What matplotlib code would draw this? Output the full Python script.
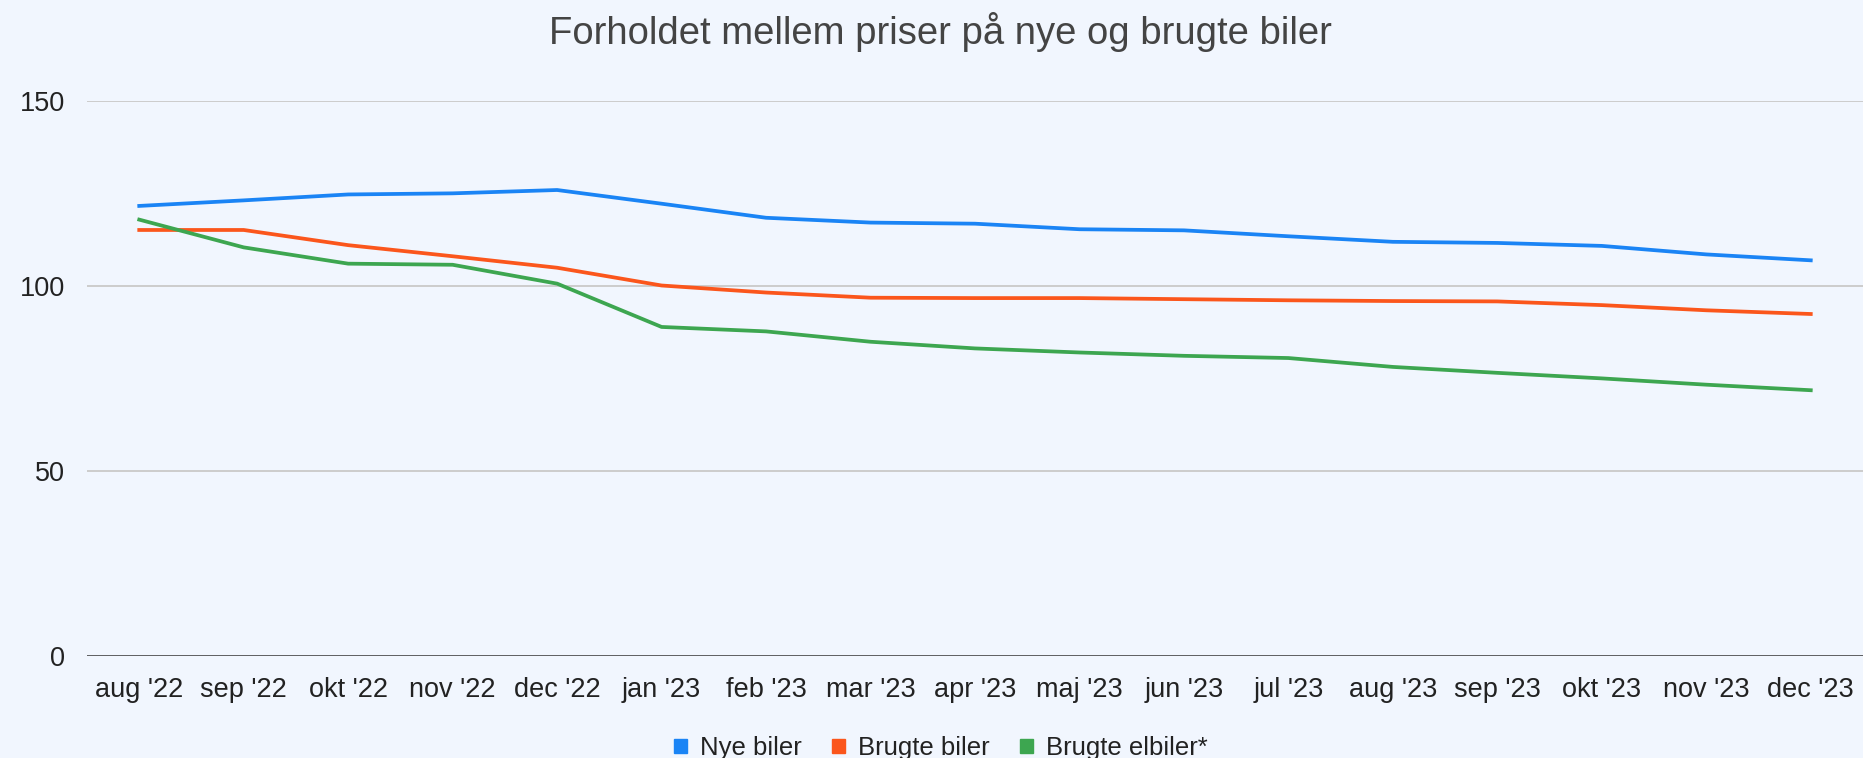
import matplotlib
matplotlib.use("Agg")
import matplotlib.pyplot as plt
from matplotlib.patches import Patch

plt.rcParams["font.family"] = ["Liberation Sans", "DejaVu Sans"]

months = ["aug '22", "sep '22", "okt '22", "nov '22", "dec '22", "jan '23", "feb '23",
          "mar '23", "apr '23", "maj '23", "jun '23", "jul '23", "aug '23", "sep '23",
          "okt '23", "nov '23", "dec '23"]
nye_biler = [121.6, 123.1, 124.7, 125.0, 125.9, 122.2, 118.4, 117.1, 116.8,
             115.3, 115.0, 113.4, 111.9, 111.6, 110.8, 108.5, 106.9]
brugte_biler = [115.1, 115.1, 111.0, 108.0, 104.9, 100.1, 98.2, 96.8, 96.7,
                96.7, 96.4, 96.1, 95.9, 95.8, 94.8, 93.4, 92.4]
brugte_elbiler = [117.9, 110.4, 106.0, 105.7, 100.6, 88.9, 87.7, 84.9, 83.1,
                  82.0, 81.1, 80.5, 78.1, 76.5, 75.0, 73.3, 71.8]

series = [
    ("Nye biler", nye_biler, "#1a84f5"),
    ("Brugte biler", brugte_biler, "#fb561c"),
    ("Brugte elbiler*", brugte_elbiler, "#3da650"),
]

bg = "#f1f6fe"
fig = plt.figure(figsize=(18.63, 7.58), dpi=100, facecolor=bg)
ax = fig.add_axes([0.0467, 0.1346, 0.9533, 0.7324])
ax.set_facecolor(bg)

x = list(range(len(months)))
for name, vals, color in series:
    ax.plot(x, vals, color=color, lw=2.7, solid_joinstyle="round", zorder=3)

ax.set_xlim(-0.5, len(months) - 0.5)
ax.set_ylim(0, 150)
ax.set_yticks([0, 50, 100, 150])
ax.set_xticks(x)
ax.set_xticklabels(months)
ax.tick_params(axis="both", length=0, labelsize=19.5, colors="#222222")
ax.tick_params(axis="x", pad=15)
ax.tick_params(axis="y", pad=16)

for v in [50, 100, 150]:
    ax.axhline(v, color="#cccccc", lw=1.4, zorder=1)
ax.axhline(0, color="#333333", lw=1.8, zorder=2)

for s in ax.spines.values():
    s.set_visible(False)

fig.text(0.505, 0.958, "Forholdet mellem priser på nye og brugte biler",
         ha="center", va="center", fontsize=27.5, color="#444444")

handles = [Patch(facecolor=c, edgecolor=c, label=n) for n, _, c in series]
fig.legend(handles=handles, loc="center", bbox_to_anchor=(0.505, 0.013), ncol=3,
           frameon=False, fontsize=18.5, handlelength=0.5, handleheight=0.5,
           handletextpad=0.5, columnspacing=1.2, labelcolor="#222222")

fig.savefig("out.png", dpi=100, facecolor=bg)
